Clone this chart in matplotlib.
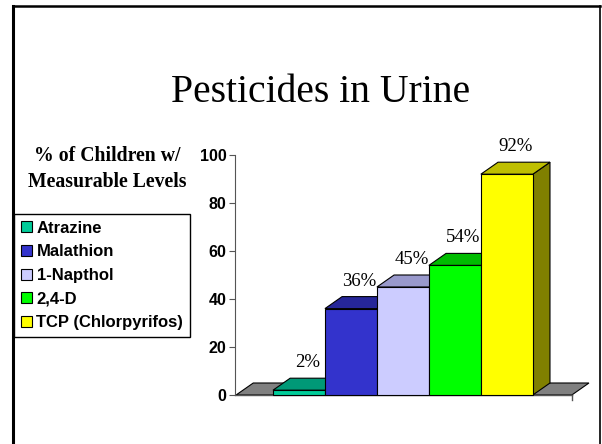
import matplotlib.pyplot as plt
from matplotlib.patches import Polygon, Patch
from matplotlib.lines import Line2D

# Data
pesticides = ["Atrazine", "Malathion", "1-Napthol", "2,4-D", "TCP (Chlorpyrifos)"]
percent = [2, 36, 45, 54, 92]
front_colors = ["#00CC99", "#3333CC", "#CCCCFF", "#00FF00", "#FFFF00"]
top_colors = ["#009977", "#262699", "#9999CC", "#00BB00", "#BFBF00"]
side_color = "#808000"
yticks = [0, 20, 40, 60, 80, 100]

# 3D depth offsets (data units)
dx, dy = 0.33, 5.0

fig = plt.figure(figsize=(6.02, 4.44), dpi=100)

# slide frame
fig.add_artist(Line2D([13/602, 13/602], [0, 1 - 6/444], color="black", lw=2.2, transform=fig.transFigure))
fig.add_artist(Line2D([13/602, 600/602], [1 - 6/444, 1 - 6/444], color="black", lw=1.8, transform=fig.transFigure))
fig.add_artist(Line2D([600/602, 600/602], [0, 1 - 6/444], color="black", lw=1.2, transform=fig.transFigure))

fig.text(321/602, 1 - 93/444, "Pesticides in Urine", ha="center", va="center",
         fontsize=28.5, family="Liberation Serif")
fig.text(107/602, 1 - 169/444, "% of Children w/\nMeasurable Levels", ha="center", va="center",
         fontsize=14.2, fontweight="bold", family="Liberation Serif", linespacing=1.35)

ax = fig.add_axes([235/602, 49/444, 355/602, 240/444])
x = list(range(len(percent)))
ax.set_xlim(-1.231, 5.6)
ax.set_ylim(0, 100)

# floor
fl_left, fl_right = -1.21, len(percent) + 0.25
ax.add_patch(Polygon([(fl_left, 0), (fl_right, 0), (fl_right + dx, dy), (fl_left + dx, dy)],
                     closed=True, facecolor="#808080", edgecolor="black", lw=0.8, zorder=1))
ax.plot([-1.231, fl_right], [0, 0], color="#555555", lw=1, zorder=1.5, clip_on=False)
ax.plot([fl_right, fl_right], [0, -2], color="#555555", lw=1, zorder=1.5, clip_on=False)

# bars: side faces, top faces, fronts
for i, v in enumerate(percent):
    l, r = i - 0.5, i + 0.5
    ax.add_patch(Polygon([(r, 0), (r + dx, dy), (r + dx, v + dy), (r, v)], closed=True,
                         facecolor=side_color, edgecolor="black", lw=0.8, zorder=2 + i, clip_on=False))
    ax.add_patch(Polygon([(l, v), (r, v), (r + dx, v + dy), (l + dx, v + dy)], closed=True,
                         facecolor=top_colors[i], edgecolor="black", lw=0.8, zorder=2 + i, clip_on=False))
    ax.bar(i, v, width=1.0, color=front_colors[i], edgecolor="black", lw=0.8, zorder=2.5 + i, clip_on=False)
    ax.text(i + dx / 2, v + dy + 6.5, f"{v}%", ha="center", va="center", fontsize=13.5,
            family="Liberation Serif", zorder=10)

ax.set_yticks(yticks)
ax.set_yticklabels([str(t) for t in yticks], fontsize=11.5, fontweight="bold", family="Liberation Sans")
ax.set_xticks([])
ax.tick_params(axis="y", direction="out", length=4, color="#555555", pad=2)
for s in ["top", "right", "bottom"]:
    ax.spines[s].set_visible(False)
ax.spines["left"].set_color("#555555")
ax.patch.set_visible(False)

handles = [Patch(facecolor=c, edgecolor="black", lw=0.8) for c in front_colors]
leg = fig.legend(handles, pesticides, loc="upper left", bbox_to_anchor=(14/602, 1 - 214/444),
                 frameon=True, fancybox=False, edgecolor="black", framealpha=1,
                 prop={"family": "Liberation Sans", "weight": "bold", "size": 12},
                 handlelength=0.65, handleheight=0.65, handletextpad=0.3, labelspacing=0.52,
                 borderpad=0.4, borderaxespad=0)
leg.get_frame().set_linewidth(1.0)

fig.savefig("out.png", dpi=100)
